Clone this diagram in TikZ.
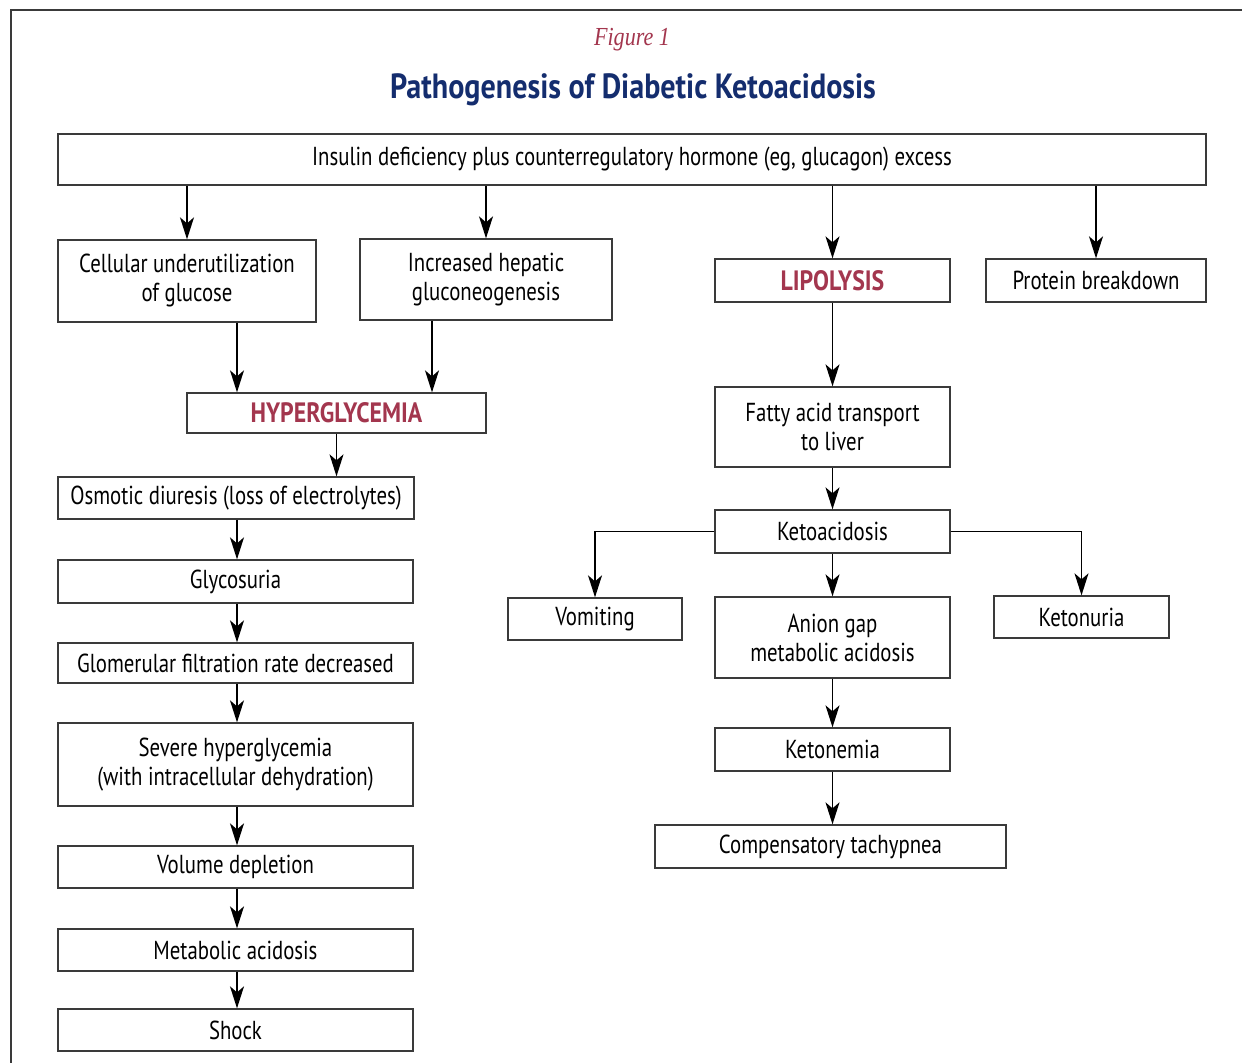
\documentclass[tikz,border=0pt]{standalone}
\usepackage{fontspec}
\setmainfont{PT Sans}[FakeStretch=0.8]
\newfontfamily\titlefont{PT Sans}[FakeStretch=0.86]
\newfontfamily\redfont{PT Sans}[FakeStretch=0.85]
\newfontfamily\figfont{Liberation Serif}[FakeStretch=0.85]
\usetikzlibrary{arrows.meta}
\definecolor{dkred}{HTML}{A3364E}
\definecolor{navy}{HTML}{142D6E}
\definecolor{boxline}{HTML}{3A3A3A}
\tikzset{
  box/.style={draw=boxline, line width=0.65pt, fill=white, align=center, inner sep=2pt, font=\fontsize{13}{14.5}\selectfont},
  redtxt/.style={text=dkred, font=\redfont\fontsize{14}{16}\selectfont\bfseries},
  arr/.style={draw=black, line width=0.75pt, -{Stealth[length=11pt,width=7pt,inset=3pt]}},
}
\begin{document}
\begin{tikzpicture}[x=0.5pt,y=-0.5pt]
\useasboundingbox (0,0) rectangle (1242,1063);
% frame
\draw[draw=boxline, line width=0.9pt] (11,1063) -- (11,10) -- (1242,10);
% titles
\node (fig) at (632,40) {\figfont\itshape\fontsize{13}{15}\selectfont\color{dkred}Figure 1};
\node (title) at (633,90) {\titlefont\bfseries\fontsize{17.5}{20}\selectfont\color{navy}Pathogenesis of Diabetic Ketoacidosis};
% top
\node[box, minimum width=574pt, minimum height=25.5pt] (top) at (632,159.5) {Insulin deficiency plus counterregulatory hormone (eg, glucagon) excess};
\node[box, minimum width=129pt, minimum height=41pt] (cell) at (187,281) {Cellular underutilization\\of glucose};
\node[box, minimum width=126pt, minimum height=40.5pt] (hep) at (486,279.5) {Increased hepatic\\gluconeogenesis};
\node[box, redtxt, minimum width=117.5pt, minimum height=21.5pt] (lip) at (832.5,280.5) {LIPOLYSIS};
\node[box, minimum width=110pt, minimum height=21.5pt] (prot) at (1096,280.5) {Protein breakdown};
\node[box, redtxt, minimum width=149.5pt, minimum height=20pt] (hyp) at (336.5,413) {HYPERGLYCEMIA};
% left column
\node[box, minimum width=178pt, minimum height=21pt] (osm) at (236,498) {Osmotic diuresis (loss of electrolytes)};
\node[box, minimum width=177.5pt, minimum height=21.5pt] (gly) at (235.5,581.5) {Glycosuria};
\node[box, minimum width=177.5pt, minimum height=20pt] (gfr) at (235.5,663) {Glomerular filtration rate decreased};
\node[box, minimum width=177.5pt, minimum height=41.5pt] (sev) at (235.5,764.5) {Severe hyperglycemia\\(with intracellular dehydration)};
\node[box, minimum width=177.5pt, minimum height=21pt] (vol) at (235.5,867) {Volume depletion};
\node[box, minimum width=177.5pt, minimum height=21pt] (met) at (235.5,950) {Metabolic acidosis};
\node[box, minimum width=177.5pt, minimum height=21pt] (shock) at (235.5,1030) {Shock};
% right column
\node[box, minimum width=117.5pt, minimum height=40pt] (fat) at (832.5,427) {Fatty acid transport\\to liver};
\node[box, minimum width=117.5pt, minimum height=21.5pt] (keto) at (832.5,531.5) {Ketoacidosis};
\node[box, minimum width=87pt, minimum height=21pt] (vom) at (595,619) {Vomiting};
\node[box, minimum width=87.5pt, minimum height=21pt] (ketu) at (1081.5,617) {Ketonuria};
\node[box, minimum width=117.5pt, minimum height=40.5pt] (anion) at (832.5,637.5) {Anion gap\\metabolic acidosis};
\node[box, minimum width=117.5pt, minimum height=21.5pt] (ketn) at (832.5,749.5) {Ketonemia};
\node[box, minimum width=175.5pt, minimum height=21.5pt] (comp) at (830.5,846.5) {Compensatory tachypnea};
% connectors from top
\draw[arr] (top.south -| cell.north) -- (cell.north);
\draw[arr] (top.south -| hep.north) -- (hep.north);
\draw[arr] (top.south -| lip.north) -- (lip.north);
\draw[arr] (top.south -| prot.north) -- (prot.north);
% to hyperglycemia
\draw[arr] ([xshift=25pt]cell.south) -- ([xshift=25pt]cell.south |- hyp.north);
\draw[arr] ([xshift=-27pt]hep.south) -- ([xshift=-27pt]hep.south |- hyp.north);
\draw[arr] (hyp.south) -- (hyp.south |- osm.north);
% left chain
\draw[arr] ([xshift=0.5pt]osm.south) -- ([xshift=0.75pt]gly.north);
\draw[arr] ([xshift=0.75pt]gly.south) -- ([xshift=0.75pt]gfr.north);
\draw[arr] ([xshift=0.75pt]gfr.south) -- ([xshift=0.75pt]sev.north);
\draw[arr] ([xshift=0.75pt]sev.south) -- ([xshift=0.75pt]vol.north);
\draw[arr] ([xshift=0.75pt]vol.south) -- ([xshift=0.75pt]met.north);
\draw[arr] ([xshift=0.75pt]met.south) -- ([xshift=0.75pt]shock.north);
% right chain
\draw[arr] (lip.south) -- (fat.north);
\draw[arr] (fat.south) -- (keto.north);
\draw[arr] (keto.west) -| (vom.north);
\draw[arr] (keto.east) -| (ketu.north);
\draw[arr] (keto.south) -- (anion.north);
\draw[arr] (anion.south) -- (ketn.north);
\draw[arr] (ketn.south) -- (ketn.south |- comp.north);
\end{tikzpicture}
\end{document}
